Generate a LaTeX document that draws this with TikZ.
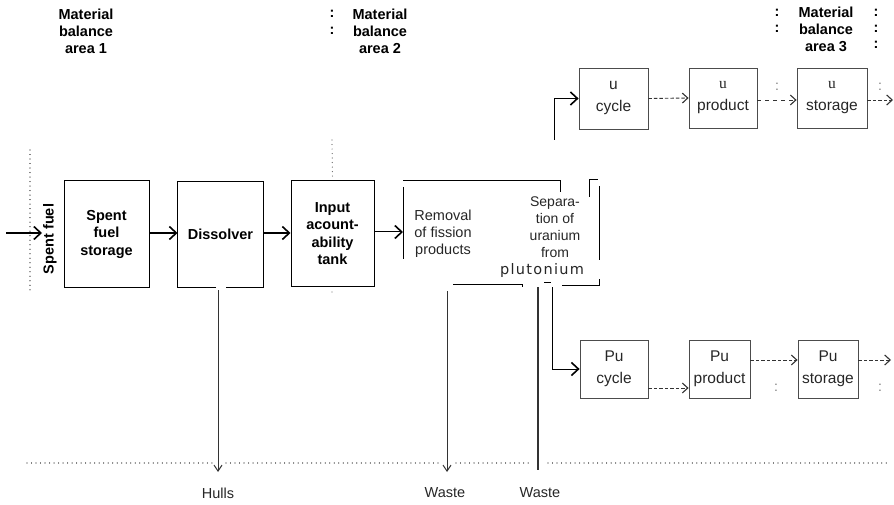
\documentclass[tikz,border=0pt]{standalone}
\usepackage{fontspec}
\setmainfont{Liberation Sans}
\newfontfamily\plufont[LetterSpace=9]{DejaVu Sans}
\newfontfamily\userif{Liberation Serif}
\usetikzlibrary{arrows.meta,calc}
\begin{document}
\begin{tikzpicture}[x=1pt,y=-1pt,
  lbox/.style={line width=1pt, font=\bfseries\fontsize{14.5}{17.5}\selectfont, align=center, inner sep=0pt},
  rbox/.style={draw=black!70, line width=0.8pt, font=\fontsize{15.5}{22}\selectfont, align=center, inner sep=0pt, text=black!85},
  head/.style={font=\bfseries\fontsize{14.5}{17}\selectfont, align=center, inner sep=0pt},
  plain/.style={font=\fontsize{14.5}{17}\selectfont, align=center, inner sep=0pt, text=black!85},
  colon/.style={font=\fontsize{14}{14}\selectfont, text=black!50, inner sep=0pt},
  bcolon/.style={font=\bfseries\fontsize{14.5}{14.5}\selectfont, inner sep=0pt},
  flow/.style={line width=1pt, -{Straight Barb[length=7pt,width=13pt,line width=1.6pt]}},
  dflow/.style={line width=0.9pt, black!80, dash pattern=on 3.5pt off 2pt, -{Straight Barb[length=5.5pt,width=10pt,line width=1.1pt]}},
  sflow/.style={line width=0.9pt, black!80, dash pattern=on 3.5pt off 4.5pt, -{Straight Barb[length=5.5pt,width=10pt,line width=1.1pt]}},
  frame/.style={line width=1pt},
  drain/.style={line width=0.9pt, black!80},
  drainarr/.style={drain, -{Straight Barb[length=6pt,width=8pt,line width=1pt]}},
  dots/.style={line width=1.2pt, black!60, dash pattern=on 0.01pt off 4.5pt, line cap=round}
]
\useasboundingbox (0,0) rectangle (894,505);

% ---- material balance area headings ----
\node[head] (h1) at (86,31) {Material\\balance\\area 1};
\node[head] (h2) at (380,31) {Material\\balance\\area 2};
\node[bcolon] (h2c1) at (332,14) {:};
\node[bcolon] (h2c2) at (332,31) {:};
\node[head] (h3) at (826,29) {Material\\balance\\area 3};
\node[bcolon] (h3c1) at (777,13) {:};
\node[bcolon] (h3c2) at (777,29) {:};
\node[bcolon] (h3c3) at (876,13) {:};
\node[bcolon] (h3c4) at (876,29) {:};
\node[bcolon] (h3c5) at (876,45) {:};

% ---- head-end process boxes ----
\node[lbox, draw, minimum width=85pt, minimum height=106pt] (store) at (106.5,234) {Spent\\fuel\\storage};
\node[lbox, minimum width=85pt, minimum height=105pt] (diss) at (220.5,234.5) {Dissolver};
\draw[frame] ($(diss.south)+(-4.5,0)$) -- (diss.south west) -- (diss.north west)
  -- (diss.north east) -- (diss.south east) -- ($(diss.south)+(5.5,0)$);
\node[lbox, draw, minimum width=83pt, minimum height=105pt] (input) at (332.5,233.5) {Input\\acount-\\ability\\tank};

% feed label and boundary of area 1
\node[lbox, rotate=90] (sflabel) at (50,239) {Spent fuel};
\coordinate (feedA) at (6,233);
\coordinate (feedB) at (42,233);
\draw[flow] (feedA) -- (feedB);
\draw[dots] (30,150) -- (30,291);
\draw[dots] (332,140) -- (input.north);
\fill[black!55] (332,292) circle (0.6pt);

\draw[flow] (store.east |- 0,233) -- (diss.west |- 0,233);
\draw[flow] (diss.east |- 0,233) -- (input.west |- 0,233);

% ---- removal / separation block ----
\coordinate (remin) at (403,232);
\draw[flow] (input.east |- remin) -- (remin);
\draw[frame] (403,187) -- (403,259);
\draw[frame] (403,181) -- (560,181) -- (560,192);
\draw[frame] (589,197) -- (589,180) -- (598,180);
\draw[frame] (599,186) -- (599,260);
\draw[frame] (562,285) -- (599,285) -- (599,279);
\draw[frame] (453,284) -- (522,284) -- (522,287);
\draw[frame] (544,282) -- (551,282);
\node[plain] (rem) at (443,234) {Removal\\of fission\\products};
\node[plain, font=\fontsize{14}{17}\selectfont] (sep) at (555,227.5) {Separa-\\tion of\\uranium\\from};
\node[inner sep=0pt, font=\plufont\fontsize{14.5}{14.5}\selectfont, text=black!85] (plu) at (542,270) {plutonium};

% ---- uranium line ----
\node[rbox, minimum width=69pt, minimum height=61pt] (ucyc) at (613.5,98.5) {u\\cycle};
\node[rbox, minimum width=68pt, minimum height=60pt] (uprod) at (723,98) {{\userif u}\\product};
\node[rbox, minimum width=70pt, minimum height=60pt] (ustor) at (832,98) {{\userif u}\\storage};
\coordinate (uup) at (554,140);
\coordinate (uout) at (893,100);
\draw[flow] (uup) |- (ucyc.west);
\draw[dflow] (ucyc.east) -- (uprod.west);
\draw[sflow] (uprod.east |- uout) -- (ustor.west |- uout);
\draw[dflow] (ustor.east |- uout) -- (uout);
\node[colon] (uc1) at (777,87) {:};
\node[colon] (uc2) at (880,87) {:};

% ---- plutonium line ----
\node[rbox, minimum width=68pt, minimum height=58pt] (pucyc) at (614,369) {Pu\\cycle};
\node[rbox, minimum width=61pt, minimum height=58pt] (puprod) at (719.5,369) {Pu\\product};
\node[rbox, minimum width=60pt, minimum height=58pt] (pustor) at (828,369) {Pu\\storage};
\coordinate (pudown) at (552,287);
\coordinate (puout) at (891,360);
\coordinate (pulow) at (0,388);
\draw[flow] (pudown) |- (pucyc.west);
\draw[dflow] (pucyc.east |- pulow) -- (puprod.west |- pulow);
\draw[dflow] (puprod.east |- puout) -- (pustor.west |- puout);
\draw[dflow] (pustor.east |- puout) -- (puout);
\node[colon] (pc1) at (776,388) {:};
\node[colon] (pc2) at (880,388) {:};

% ---- waste streams ----
\draw[dots] (27,463) -- (213,463);
\draw[dots] (226,463) -- (440,463);
\draw[dots] (456,463) -- (532,463);
\draw[dots] (548,463) -- (890,463);

\node[plain] (hulls) at (218,493) {Hulls};
\node[plain] (waste1) at (445,493) {Waste};
\node[plain] (waste2) at (540,493) {Waste};
\coordinate (hullstop) at (218,290);
\coordinate (w1top) at (447,291);
\coordinate (w2top) at (538,287);
\draw[drainarr] (hullstop) -- (hullstop |- 0,472);
\draw[drainarr] (w1top) -- (w1top |- 0,472);
\draw[drain, line width=1.3pt] (w2top) -- (w2top |- 0,470);
\end{tikzpicture}
\end{document}
